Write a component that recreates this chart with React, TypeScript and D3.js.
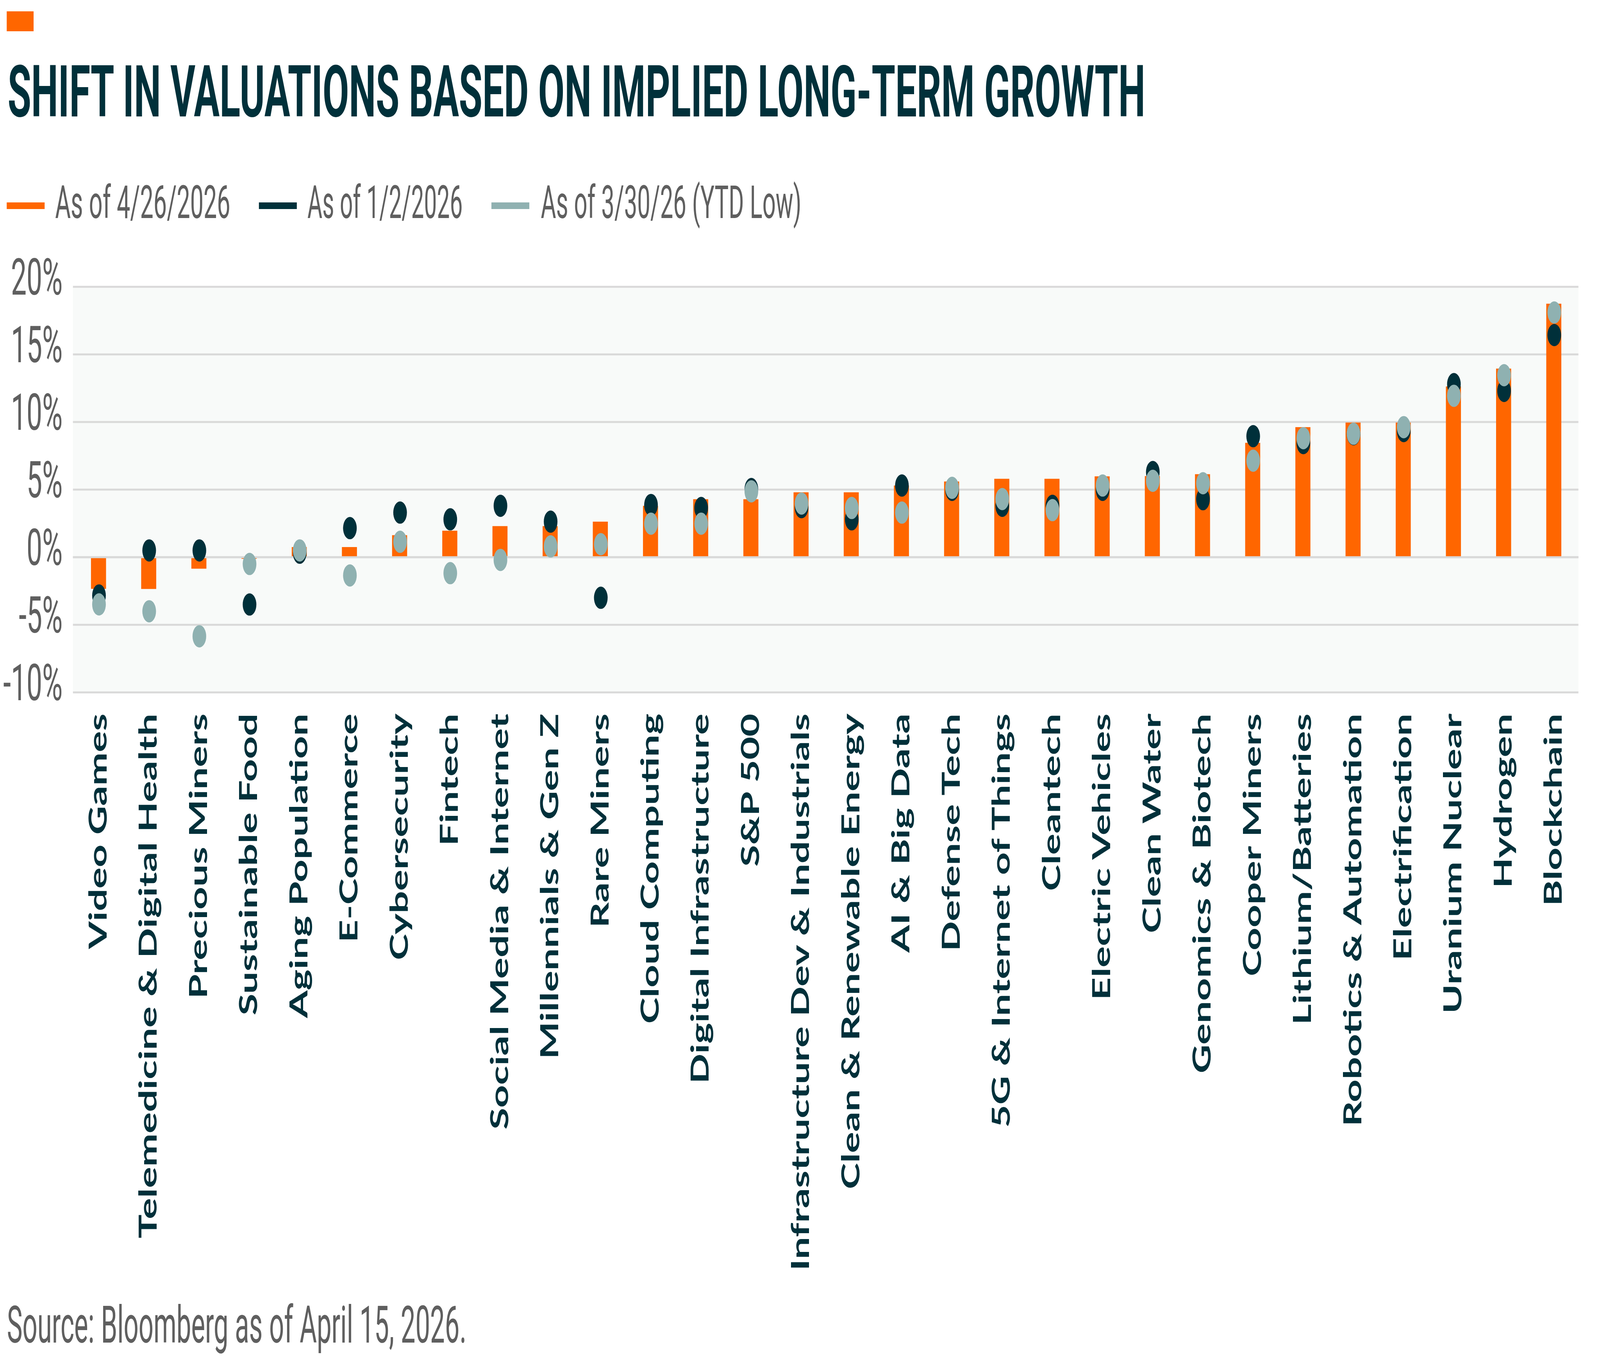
import React from 'react';
import * as d3 from 'd3';

const categories = [
  'Video Games', 'Telemedicine & Digital Health', 'Precious Miners', 'Sustainable Food',
  'Aging Population', 'E-Commerce', 'Cybersecurity', 'Fintech', 'Social Media & Internet',
  'Millennials & Gen Z', 'Rare Miners', 'Cloud Computing', 'Digital Infrastructure', 'S&P 500',
  'Infrastructure Dev & Industrials', 'Clean & Renewable Energy', 'AI & Big Data', 'Defense Tech',
  '5G & Internet of Things', 'Cleantech', 'Electric Vehicles', 'Clean Water', 'Genomics & Biotech',
  'Cooper Miners', 'Lithium/Batteries', 'Robotics & Automation', 'Electrification',
  'Uranium Nuclear', 'Hydrogen', 'Blockchain',
];

// As of 4/26/2026 (bars)
const asOfApr26 = [
  -2.34, -2.35, -0.85, -0.12, 0.75, 0.75, 1.63, 1.96, 2.3, 2.3,
  2.63, 3.8, 4.29, 4.29, 4.8, 4.8, 5.3, 5.6, 5.8, 5.8,
  5.98, 6.0, 6.14, 8.46, 9.62, 9.96, 9.96, 12.63, 13.95, 18.75,
];

// As of 1/2/2026 (dark dots)
const asOfJan2 = [
  -2.83, 0.5, 0.5, -3.5, 0.33, 2.15, 3.3, 2.8, 3.8, 2.63,
  -3.0, 3.86, 3.64, 5.04, 3.7, 2.8, 5.3, 4.98, 3.8, 3.8,
  4.98, 6.3, 4.29, 8.95, 8.44, 9.1, 9.33, 12.8, 12.3, 16.43,
];

// As of 3/30/26 YTD low (light dots)
const asOfMar30 = [
  -3.49, -4.0, -5.85, -0.5, 0.5, -1.35, 1.14, -1.18, -0.2, 0.8,
  0.96, 2.48, 2.48, 4.87, 3.97, 3.64, 3.3, 5.13, 4.3, 3.48,
  5.3, 5.65, 5.47, 7.14, 8.8, 9.13, 9.62, 11.94, 13.46, 18.1,
];

const yTicks = [-10, -5, 0, 5, 10, 15, 20];
const legendLabels = ['As of 4/26/2026', 'As of 1/2/2026', 'As of 3/30/26 (YTD Low)'];
const titleText = 'SHIFT IN VALUATIONS BASED ON IMPLIED LONG-TERM GROWTH';
const sourceText = 'Source: Bloomberg as of April 15, 2026.';

const ORANGE = '#FF6600';
const DARK = '#00303A';
const LIGHT = '#8FB1B1';
const GRID = '#D9D9D9';
const PLOT_BG = '#F8FAF9';
const GRAY_TEXT = '#5F5F5F';

export default function App() {
  const W = 6668;
  const H = 3478;
  const plotLeft = 304;
  const plotRight = 6578;
  const plotTop = 734;
  const plotBottom = 1772;

  const x = d3.scaleBand<string>().domain(categories).range([plotLeft, plotRight]).padding(0);
  const y = d3.scaleLinear().domain([-10, 20]).range([plotBottom, plotTop]);
  const barW = x.bandwidth() * 0.3;
  const dotR = 28.5;
  const cx = (c: string) => (x(c) as number) + x.bandwidth() / 2 + 2;

  const legendItems = [
    { label: legendLabels[0], color: ORANGE, sx: 28, tx: 230, tw: 730 },
    { label: legendLabels[1], color: DARK, sx: 1079, tx: 1281, tw: 647 },
    { label: legendLabels[2], color: LIGHT, sx: 2048, tx: 2254, tw: 1086 },
  ];

  const condensed = "Roboto, 'Liberation Sans', sans-serif";

  return (
    <svg
      viewBox={`0 0 ${W} ${H}`}
      preserveAspectRatio="none"
      style={{
        position: 'fixed',
        left: 0,
        top: 0,
        width: '100%',
        height: '100%',
        display: 'block',
        background: '#FFFFFF',
      }}
    >
      <rect x={0} y={0} width={W} height={H} fill="#FFFFFF" />
      {/* accent square */}
      <rect x={28} y={29} width={112} height={51} fill={ORANGE} />
      {/* title */}
      <text
        x={32}
        y={298}
        fontFamily={condensed}
        fontWeight={700}
        fontSize={183}
        fill={DARK}
        textLength={4741}
        lengthAdjust="spacingAndGlyphs"
      >
        {titleText}
      </text>

      {/* legend */}
      {legendItems.map((it) => (
        <g key={it.label}>
          <rect x={it.sx} y={518} width={158} height={17} fill={it.color} />
          <text
            x={it.tx}
            y={558}
            fontFamily={condensed}
            fontWeight={400}
            fontSize={117}
            fill={GRAY_TEXT}
            textLength={it.tw}
            lengthAdjust="spacingAndGlyphs"
          >
            {it.label}
          </text>
        </g>
      ))}

      {/* plot background */}
      <rect x={plotLeft} y={plotTop} width={plotRight - plotLeft} height={plotBottom - plotTop} fill={PLOT_BG} />

      {/* gridlines */}
      {yTicks.map((t) => (
        <line key={`g${t}`} x1={plotLeft} x2={plotRight} y1={y(t)} y2={y(t)} stroke={GRID} strokeWidth={5} />
      ))}

      {/* y tick labels */}
      {yTicks.map((t) => (
        <text
          key={`t${t}`}
          transform={`translate(261, ${y(t) + 20}) scale(0.9, 1)`}
          textAnchor="end"
          fontFamily={condensed}
          fontWeight={400}
          fontSize={129}
          fill={GRAY_TEXT}
        >
          {`${t}%`}
        </text>
      ))}

      {/* bars */}
      {categories.map((c, i) => {
        const v = asOfApr26[i];
        const y0 = y(0);
        const y1 = y(v);
        return (
          <rect
            key={`b${c}`}
            x={cx(c) - barW / 2}
            y={Math.min(y0, y1)}
            width={barW}
            height={Math.abs(y1 - y0)}
            fill={ORANGE}
          />
        );
      })}

      {/* zero line on top of bars */}
      <line x1={plotLeft} x2={plotRight} y1={y(0)} y2={y(0)} stroke={GRID} strokeWidth={5} />

      {/* dark dots */}
      {categories.map((c, i) => (
        <circle key={`d${c}`} cx={cx(c) + 2} cy={y(asOfJan2[i])} r={dotR} fill={DARK} />
      ))}

      {/* light dots */}
      {categories.map((c, i) => (
        <circle key={`l${c}`} cx={cx(c) + 2} cy={y(asOfMar30[i])} r={dotR} fill={LIGHT} />
      ))}

      {/* x labels */}
      {categories.map((c) => (
        <text
          key={`x${c}`}
          transform={`translate(${cx(c)}, 1826) rotate(-90)`}
          textAnchor="end"
          dy="0.33em"
          fontFamily="Lato, 'Open Sans', sans-serif"
          fontWeight={700}
          fontSize={102}
          fill={DARK}
        >
          {c}
        </text>
      ))}

      {/* source */}
      <text
        x={29}
        y={3436}
        fontFamily={condensed}
        fontWeight={400}
        fontSize={132}
        fill={GRAY_TEXT}
        textLength={1915}
        lengthAdjust="spacingAndGlyphs"
      >
        {sourceText}
      </text>
    </svg>
  );
}
